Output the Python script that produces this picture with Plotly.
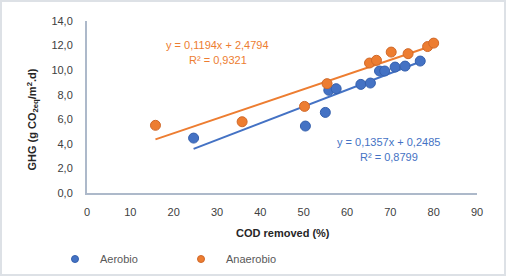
import plotly.graph_objects as go

# ---- data ----
aer_x = [24.6, 50.4, 55.0, 55.8, 57.5, 63.2, 65.4, 67.5, 68.7, 71.1, 73.4, 76.9]
aer_y = [4.47, 5.45, 6.56, 8.36, 8.49, 8.84, 8.95, 9.93, 9.93, 10.25, 10.33, 10.74]
ana_x = [15.8, 35.8, 50.2, 55.4, 65.2, 66.8, 70.2, 74.1, 78.6, 80.0]
ana_y = [5.51, 5.80, 7.05, 8.90, 10.58, 10.80, 11.47, 11.34, 11.92, 12.20]
aer_fit = [0.1357, 0.2485]   # slope, intercept
ana_fit = [0.1194, 2.4794]
aer_r2 = "0,8799"
ana_r2 = "0,9321"
x_ticks = [0, 10, 20, 30, 40, 50, 60, 70, 80, 90]
y_ticks = [0, 2, 4, 6, 8, 10, 12, 14]

BLUE = "#4472C4"
ORANGE = "#ED7D31"
FONT = "Liberation Sans"

def fit_line(xs, coef):
    lo, hi = min(xs), max(xs)
    return [lo, hi], [coef[0] * lo + coef[1], coef[0] * hi + coef[1]]

fig = go.Figure()

ax, ay = fit_line(aer_x, aer_fit)
ox, oy = fit_line(ana_x, ana_fit)
fig.add_trace(go.Scatter(x=ox, y=oy, mode="lines", line=dict(color=ORANGE, width=2),
                         showlegend=False, hoverinfo="skip"))
fig.add_trace(go.Scatter(x=ax, y=ay, mode="lines", line=dict(color=BLUE, width=2),
                         showlegend=False, hoverinfo="skip"))

fig.add_trace(go.Scatter(x=aer_x, y=aer_y, mode="markers", name="Aerobio", showlegend=False,
                         marker=dict(size=10, color=BLUE, line=dict(color="#3560ad", width=1))))
fig.add_trace(go.Scatter(x=ana_x, y=ana_y, mode="markers", name="Anaerobio", showlegend=False,
                         marker=dict(size=10, color=ORANGE, line=dict(color="#d0692a", width=1))))

# legend-only entries (smaller symbols)
fig.add_trace(go.Scatter(x=[None], y=[None], mode="markers", name="Aerobio",
                         marker=dict(size=7, color=BLUE, line=dict(color="#3560ad", width=1))))
fig.add_trace(go.Scatter(x=[None], y=[None], mode="markers", name="Anaerobio",
                         marker=dict(size=7, color=ORANGE, line=dict(color="#d0692a", width=1))))

def fmt(v):
    return f"{v}".replace(".", ",")

ann = []
ann.append(dict(x=217.5, y=45, text=f"y = {fmt(ana_fit[0])}x + {fmt(ana_fit[1])}", color=ORANGE))
ann.append(dict(x=218.3, y=60, text=f"R² = {ana_r2}", color=ORANGE))
ann.append(dict(x=388.8, y=142.3, text=f"y = {fmt(aer_fit[0])}x + {fmt(aer_fit[1])}", color=BLUE))
ann.append(dict(x=389.3, y=156.7, text=f"R² = {aer_r2}", color=BLUE))

L, R, T, B = 87, 29, 21, 83
W, H = 506, 276
PW, PH = W - L - R, H - T - B

def px2paper(px, py):
    return (px - L) / PW, 1 - (py - T) / PH

annotations = []
for a in ann:
    xp, yp = px2paper(a["x"], a["y"])
    annotations.append(dict(xref="paper", yref="paper", x=xp, y=yp, text=a["text"],
                            showarrow=False, xanchor="center", yanchor="middle",
                            font=dict(family=FONT, size=11, color=a["color"])))

xp, yp = px2paper(32, 119.5)
annotations.append(dict(xref="paper", yref="paper", x=xp, y=yp, textangle=-90,
                        text="<b>GHG (g CO<sub>2eq</sub>/m<sup>2</sup>.d)</b>",
                        showarrow=False, xanchor="center", yanchor="middle",
                        font=dict(family=FONT, size=11, color="#262626")))
xp, yp = px2paper(282.5, 233)
annotations.append(dict(xref="paper", yref="paper", x=xp, y=yp,
                        text="<b>COD removed (%)</b>",
                        showarrow=False, xanchor="center", yanchor="middle",
                        font=dict(family=FONT, size=11, color="#262626")))

bx0, by0 = px2paper(0, H)
bx1, by1 = px2paper(W, 0)
lgx, lgy = px2paper(50, 259)

fig.update_layout(
    width=W, height=H,
    margin=dict(l=L, r=R, t=T, b=B, autoexpand=False),
    paper_bgcolor="white", plot_bgcolor="white",
    separators=",.",
    font=dict(family=FONT, size=11, color="#595959"),
    xaxis=dict(range=[0, 90], tickvals=x_ticks, showgrid=False, zeroline=False,
               showline=True, linecolor="#adb9ca", linewidth=2, ticks="",
               automargin=False,
               ticklabelstandoff=8, tickfont=dict(size=11, color="#404040")),
    yaxis=dict(range=[0, 14], tickvals=y_ticks, tickformat=".1f", showgrid=False,
               zeroline=False, showline=True, linecolor="#adb9ca", linewidth=2, ticks="",
               automargin=False,
               ticklabelstandoff=10, tickfont=dict(size=11, color="#404040")),
    showlegend=True,
    legend=dict(orientation="h", x=lgx, y=lgy, xanchor="left", yanchor="middle",
                entrywidth=71, entrywidthmode="pixels", itemwidth=40,
                font=dict(family=FONT, size=11, color="#595959"),
                bgcolor="rgba(0,0,0,0)"),
    annotations=annotations,
    shapes=[dict(type="rect", xref="paper", yref="paper", x0=bx0, y0=by0, x1=bx1, y1=by1,
                 line=dict(color="#dde1e6", width=4), layer="above")],
)

fig.write_html("out.html", config={"displayModeBar": False},
               post_script="document.body.style.margin='0';document.body.style.overflow='hidden';")
